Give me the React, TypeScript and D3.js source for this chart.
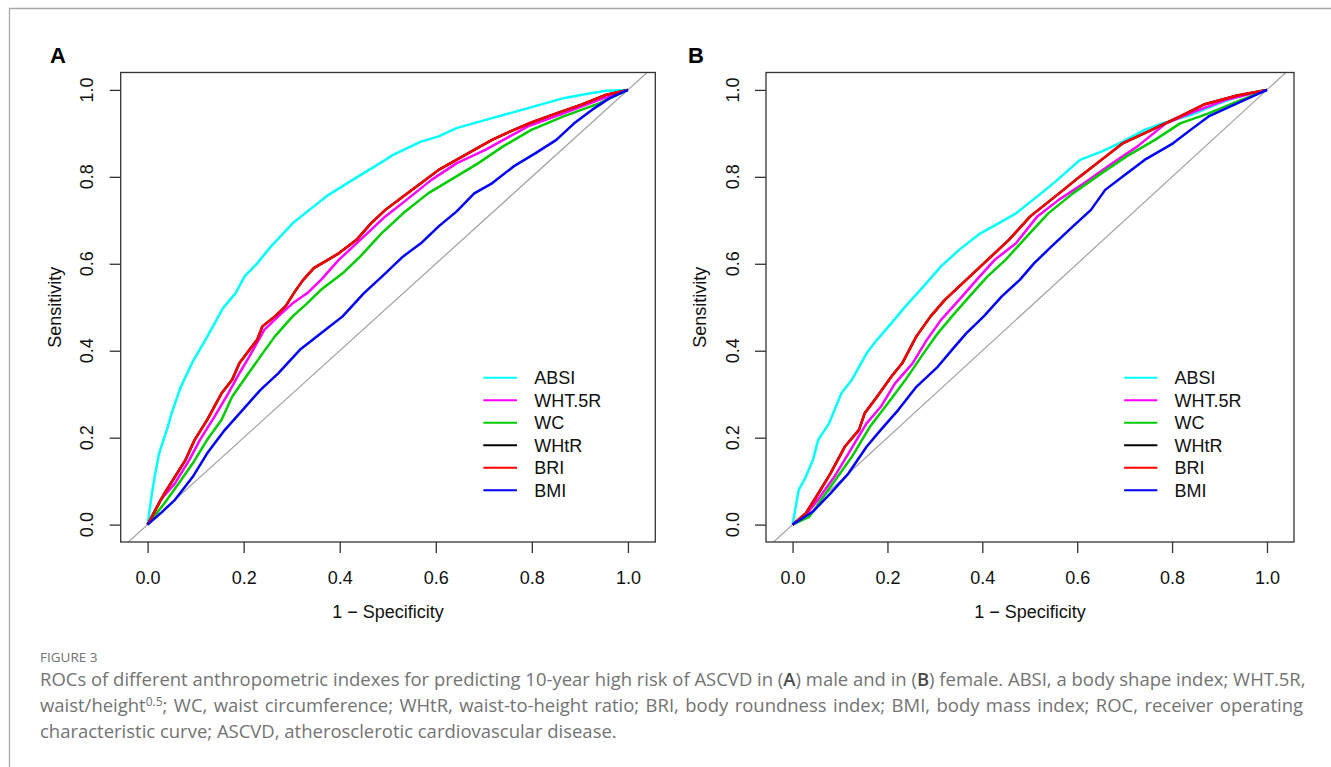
import React, { useEffect, useRef } from "react";
import * as d3 from "d3";

type Pt = [number, number];

const seriesNames = ["ABSI", "WHT.5R", "WC", "WHtR", "BRI", "BMI"];
const seriesColors = ["#00FFFF", "#FF00FF", "#00CD00", "#000000", "#FF0000", "#0000FF"];
const tickValues = [0, 0.2, 0.4, 0.6, 0.8, 1.0];

// ---- panel A (male): [1 - specificity, sensitivity]
const absiA: Pt[] = [
  [0, 0], [0.009, 0.072], [0.016, 0.118], [0.024, 0.164], [0.042, 0.225], [0.05, 0.256],
  [0.068, 0.314], [0.094, 0.375], [0.124, 0.432], [0.157, 0.498], [0.183, 0.532], [0.202, 0.571],
  [0.228, 0.601], [0.257, 0.64], [0.302, 0.693], [0.346, 0.732], [0.376, 0.758], [0.421, 0.789],
  [0.495, 0.839], [0.51, 0.85], [0.569, 0.881], [0.606, 0.893], [0.643, 0.912], [0.717, 0.935],
  [0.792, 0.958], [0.866, 0.981], [0.91, 0.99], [0.955, 0.998], [1, 1],
];
const wht5rA: Pt[] = [
  [0, 0], [0.027, 0.057], [0.057, 0.095], [0.087, 0.149], [0.109, 0.195], [0.139, 0.248],
  [0.168, 0.302], [0.191, 0.348], [0.212, 0.387], [0.243, 0.448], [0.272, 0.479], [0.302, 0.509],
  [0.332, 0.532], [0.361, 0.563], [0.398, 0.609], [0.435, 0.647], [0.495, 0.709], [0.539, 0.747],
  [0.591, 0.793], [0.643, 0.831], [0.703, 0.862], [0.754, 0.893], [0.792, 0.916], [0.866, 0.946],
  [0.94, 0.977], [1, 1],
];
const wcA: Pt[] = [
  [0, 0], [0.035, 0.049], [0.065, 0.095], [0.094, 0.141], [0.124, 0.195], [0.154, 0.241],
  [0.176, 0.294], [0.205, 0.34], [0.235, 0.387], [0.265, 0.433], [0.302, 0.479], [0.332, 0.509],
  [0.361, 0.54], [0.406, 0.578], [0.443, 0.617], [0.487, 0.67], [0.532, 0.716], [0.584, 0.762],
  [0.643, 0.801], [0.688, 0.831], [0.74, 0.87], [0.799, 0.908], [0.866, 0.939], [0.94, 0.969], [1, 1],
];
const briA: Pt[] = [
  [0, 0], [0.035, 0.072], [0.057, 0.11], [0.079, 0.149], [0.098, 0.195], [0.124, 0.241],
  [0.154, 0.302], [0.176, 0.333], [0.191, 0.371], [0.212, 0.402], [0.228, 0.425], [0.239, 0.456],
  [0.265, 0.479], [0.287, 0.502], [0.309, 0.54], [0.324, 0.563], [0.346, 0.59], [0.369, 0.605],
  [0.398, 0.624], [0.435, 0.655], [0.465, 0.693], [0.495, 0.724], [0.532, 0.755], [0.569, 0.785],
  [0.606, 0.816], [0.643, 0.839], [0.68, 0.862], [0.717, 0.885], [0.754, 0.904], [0.799, 0.925],
  [0.851, 0.946], [0.903, 0.966], [0.955, 0.989], [1, 1],
];
// WHtR gives the same ROC as BRI, it sits right under the red line
const whtrA: Pt[] = briA;
const bmiA: Pt[] = [
  [0, 0], [0.027, 0.026], [0.057, 0.057], [0.094, 0.11], [0.124, 0.164], [0.161, 0.218],
  [0.198, 0.264], [0.235, 0.31], [0.272, 0.348], [0.317, 0.402], [0.361, 0.44], [0.406, 0.479],
  [0.45, 0.532], [0.495, 0.578], [0.532, 0.617], [0.569, 0.647], [0.606, 0.686], [0.643, 0.72],
  [0.68, 0.762], [0.717, 0.785], [0.762, 0.824], [0.807, 0.854], [0.851, 0.885], [0.888, 0.923],
  [0.925, 0.954], [0.962, 0.981], [1, 1],
];

// ---- panel B (female)
const absiB: Pt[] = [
  [0, 0], [0.013, 0.08], [0.028, 0.11], [0.043, 0.149], [0.054, 0.195], [0.077, 0.233],
  [0.103, 0.302], [0.125, 0.333], [0.156, 0.394], [0.178, 0.425], [0.208, 0.463], [0.238, 0.502],
  [0.276, 0.548], [0.313, 0.594], [0.351, 0.632], [0.396, 0.67], [0.434, 0.693], [0.471, 0.716],
  [0.516, 0.755], [0.554, 0.789], [0.606, 0.839], [0.651, 0.858], [0.696, 0.881], [0.742, 0.908],
  [0.779, 0.923], [0.839, 0.942], [0.899, 0.969], [0.952, 0.989], [1, 1],
];
const wht5rB: Pt[] = [
  [0, 0], [0.028, 0.022], [0.058, 0.064], [0.088, 0.11], [0.118, 0.164], [0.156, 0.233],
  [0.186, 0.271], [0.216, 0.325], [0.253, 0.371], [0.283, 0.425], [0.313, 0.471], [0.351, 0.517],
  [0.388, 0.563], [0.426, 0.609], [0.471, 0.647], [0.516, 0.709], [0.561, 0.747], [0.614, 0.785],
  [0.674, 0.831], [0.727, 0.87], [0.787, 0.923], [0.847, 0.95], [0.914, 0.977], [1, 1],
];
const wcB: Pt[] = [
  [0, 0], [0.035, 0.018], [0.065, 0.064], [0.095, 0.11], [0.125, 0.156], [0.163, 0.225],
  [0.201, 0.279], [0.238, 0.333], [0.276, 0.394], [0.306, 0.44], [0.336, 0.479], [0.373, 0.525],
  [0.411, 0.571], [0.449, 0.609], [0.494, 0.663], [0.539, 0.716], [0.591, 0.762], [0.651, 0.808],
  [0.704, 0.847], [0.764, 0.885], [0.817, 0.923], [0.877, 0.946], [0.937, 0.973], [1, 1],
];
const briB: Pt[] = [
  [0, 0], [0.028, 0.026], [0.05, 0.064], [0.08, 0.118], [0.11, 0.179], [0.14, 0.218],
  [0.152, 0.256], [0.178, 0.294], [0.208, 0.34], [0.231, 0.371], [0.261, 0.433], [0.291, 0.479],
  [0.321, 0.517], [0.366, 0.563], [0.411, 0.609], [0.456, 0.655], [0.501, 0.709], [0.554, 0.755],
  [0.606, 0.801], [0.651, 0.839], [0.696, 0.877], [0.757, 0.908], [0.817, 0.939], [0.869, 0.967],
  [0.937, 0.987], [1, 1],
];
const whtrB: Pt[] = briB;
const bmiB: Pt[] = [
  [0, 0], [0.043, 0.03], [0.08, 0.072], [0.118, 0.118], [0.156, 0.179], [0.186, 0.218],
  [0.223, 0.264], [0.261, 0.317], [0.306, 0.363], [0.336, 0.402], [0.366, 0.44], [0.403, 0.479],
  [0.441, 0.525], [0.479, 0.563], [0.509, 0.601], [0.546, 0.64], [0.591, 0.686], [0.629, 0.724],
  [0.659, 0.77], [0.696, 0.801], [0.742, 0.839], [0.802, 0.877], [0.839, 0.908], [0.877, 0.939],
  [0.937, 0.969], [1, 1],
];

const captionLines = [
  [
    { t: "ROCs of different anthropometric indexes for predicting 10-year high risk of ASCVD in (" },
    { t: "A", b: true },
    { t: ") male and in (" },
    { t: "B", b: true },
    { t: ") female. ABSI, a body shape index; WHT.5R," },
  ],
  [
    { t: "waist/height" },
    { t: "0.5", sup: true },
    { t: "; WC, waist circumference; WHtR, waist-to-height ratio; BRI, body roundness index; BMI, body mass index; ROC, receiver operating" },
  ],
  [{ t: "characteristic curve; ASCVD, atherosclerotic cardiovascular disease." }],
];

const W = 1331;
const H = 767;
const TOP = 72.5;
const BOTTOM = 542;
const FONT = "'Liberation Sans', Arial, Helvetica, sans-serif";

const panels = [
  { letter: "A", left: 120.7, right: 655.3, letterX: 50, curves: [absiA, wht5rA, wcA, whtrA, briA, bmiA] },
  { letter: "B", left: 766, right: 1294, letterX: 688, curves: [absiB, wht5rB, wcB, whtrB, briB, bmiB] },
];

export default function App() {
  const ref = useRef<SVGSVGElement>(null);

  useEffect(() => {
    const svg = d3.select(ref.current);
    svg.selectAll("*").remove();

    // page frame (top + left edge)
    svg.append("path")
      .attr("d", `M9.5,${H} V8.5 H${W}`)
      .attr("fill", "none")
      .attr("stroke", "#a8a8a8")
      .attr("stroke-width", 1.3);

    const y = d3.scaleLinear().domain([-0.04, 1.04]).range([BOTTOM, TOP]);

    panels.forEach((p, i) => {
      const x = d3.scaleLinear().domain([-0.056, 1.057]).range([p.left, p.right]);
      const g = svg.append("g");
      const clipId = "box-clip-" + i;

      g.append("clipPath").attr("id", clipId)
        .append("rect")
        .attr("x", p.left).attr("y", TOP)
        .attr("width", p.right - p.left).attr("height", BOTTOM - TOP);

      // reference diagonal
      g.append("line")
        .attr("clip-path", `url(#${clipId})`)
        .attr("x1", x(-0.2)).attr("y1", y(-0.2))
        .attr("x2", x(1.2)).attr("y2", y(1.2))
        .attr("stroke", "#a0a0a0")
        .attr("stroke-width", 1.2);

      const line = d3.line<Pt>().x(d => x(d[0])).y(d => y(d[1]));
      p.curves.forEach((c, k) => {
        g.append("path")
          .attr("d", line(c))
          .attr("fill", "none")
          .attr("stroke", seriesColors[k])
          .attr("stroke-width", 2.5)
          .attr("stroke-linejoin", "round");
      });

      // box
      g.append("rect")
        .attr("x", p.left).attr("y", TOP)
        .attr("width", p.right - p.left).attr("height", BOTTOM - TOP)
        .attr("fill", "none")
        .attr("stroke", "#333")
        .attr("stroke-width", 1.3);

      // x axis
      const xg = g.append("g")
        .attr("transform", `translate(0,${BOTTOM})`)
        .call(d3.axisBottom(x).tickValues(tickValues).tickSize(11).tickPadding(18).tickFormat(d3.format(".1f")));
      xg.select(".domain").remove();
      xg.selectAll("line").attr("stroke", "#333").attr("stroke-width", 1.3);
      xg.selectAll("text").attr("font-size", 18).attr("font-family", FONT).attr("fill", "#111");

      // y axis
      const yg = g.append("g")
        .attr("transform", `translate(${p.left},0)`)
        .call(d3.axisLeft(y).tickValues(tickValues).tickSize(11).tickFormat(() => ""));
      yg.select(".domain").remove();
      yg.selectAll("line").attr("stroke", "#333").attr("stroke-width", 1.3);
      g.selectAll(".ylab")
        .data(tickValues)
        .join("text")
        .attr("transform", d => `translate(${p.left - 33.7},${y(d)}) rotate(-90)`)
        .attr("text-anchor", "middle")
        .attr("dy", "0.35em")
        .attr("font-size", 18)
        .attr("font-family", FONT)
        .attr("fill", "#111")
        .text(d => d3.format(".1f")(d));

      // axis titles
      g.append("text")
        .attr("x", (p.left + p.right) / 2).attr("y", 617.5)
        .attr("text-anchor", "middle")
        .attr("font-size", 18).attr("font-family", FONT).attr("fill", "#111")
        .text("1 \u2212 Specificity");
      g.append("text")
        .attr("transform", `translate(${p.left - 66},${(TOP + BOTTOM) / 2}) rotate(-90)`)
        .attr("text-anchor", "middle")
        .attr("dy", "0.35em")
        .attr("font-size", 18).attr("font-family", FONT).attr("fill", "#111")
        .text("Sensitivity");

      // panel letter
      g.append("text")
        .attr("x", p.letterX).attr("y", 63)
        .attr("font-size", 22).attr("font-weight", "bold").attr("font-family", FONT)
        .text(p.letter);

      // legend
      seriesNames.forEach((name, k) => {
        const ry = 377.7 + k * 22.5;
        g.append("line")
          .attr("x1", x(0.699)).attr("x2", x(0.769))
          .attr("y1", ry).attr("y2", ry)
          .attr("stroke", seriesColors[k])
          .attr("stroke-width", 2);
        g.append("text")
          .attr("x", x(0.805)).attr("y", ry).attr("dy", "0.35em")
          .attr("font-size", 18).attr("font-family", FONT).attr("fill", "#111")
          .text(name);
      });
    });

    // caption
    const cap = svg.append("g").attr("font-family", "'Open Sans', sans-serif").attr("fill", "#737373");
    cap.append("text")
      .attr("x", 40).attr("y", 662)
      .attr("font-size", 13.5)
      .text("FIGURE 3");

    const capX = 40;
    const capRight = 1303;
    const lastLineWidth = 577;

    const texts = captionLines.map((segs, li) => {
      const txt = cap.append("text")
        .attr("x", capX).attr("y", 686 + li * 26)
        .attr("font-size", 16);
      let shifted = false;
      segs.forEach((s: any) => {
        const ts = txt.append("tspan").text(s.t);
        if (s.b) ts.attr("font-weight", 600).attr("fill", "#4a4a4a");
        if (s.sup) {
          ts.attr("font-size", "0.65em").attr("dy", -6);
          shifted = true;
        } else if (shifted) {
          ts.attr("dy", 6);
          shifted = false;
        }
      });
      return txt;
    });

    // size the font so the unjustified last line has the same length as in the figure
    const lastNode = texts[texts.length - 1].node() as SVGTextElement;
    const fs = 16 * lastLineWidth / lastNode.getComputedTextLength();
    texts.forEach((txt, li) => {
      txt.attr("font-size", fs);
      if (li < texts.length - 1) {
        const node = txt.node() as SVGTextElement;
        const natural = node.getComputedTextLength();
        const spaces = captionLines[li].map((s: any) => s.t).join("").split(" ").length - 1;
        txt.attr("word-spacing", Math.max(0, (capRight - capX - natural) / spaces));
      }
    });
  }, []);

  return (
    <svg
      ref={ref}
      width={W}
      height={H}
      style={{ position: "absolute", left: 0, top: 0, background: "#fff" }}
    />
  );
}
